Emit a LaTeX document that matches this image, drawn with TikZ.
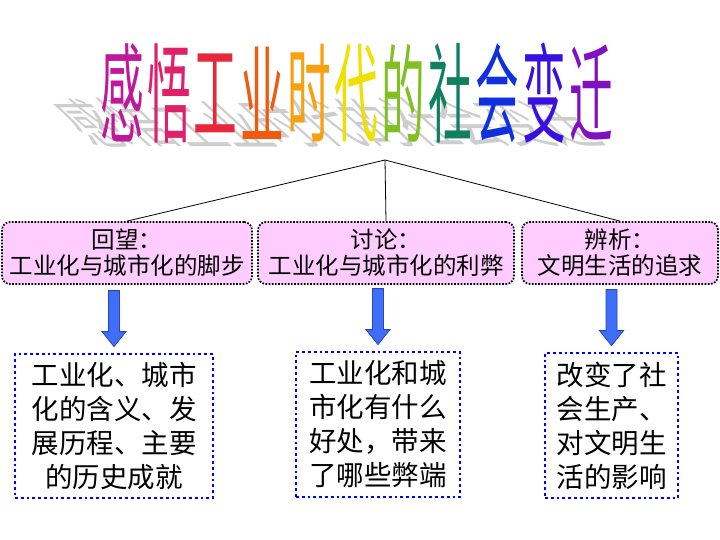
\documentclass[tikz,border=0pt]{standalone}
\usepackage{fontspec}
\setmainfont{Noto Sans CJK SC}
\usetikzlibrary{calc}
\definecolor{ta}{HTML}{C0189A}
\definecolor{tb}{HTML}{E0206A}
\definecolor{tc}{HTML}{E8283A}
\definecolor{td}{HTML}{F05A10}
\definecolor{te}{HTML}{F8A010}
\definecolor{tf}{HTML}{F0E000}
\definecolor{tg}{HTML}{80C020}
\definecolor{th}{HTML}{108060}
\definecolor{ti}{HTML}{1030E0}
\definecolor{tj}{HTML}{3810E0}
\definecolor{tk}{HTML}{8010C0}
\definecolor{shadowgray}{HTML}{CDCDCD}
\definecolor{boxpink}{HTML}{FFCCFF}
\definecolor{dotblue}{HTML}{0000FF}
\definecolor{arrowfill}{HTML}{3F6EF8}
\definecolor{arrowdraw}{HTML}{2846B8}
\begin{document}
\begin{tikzpicture}[x=1pt,y=-1pt,
  titlefont/.style={font=\fontsize{46}{46}\selectfont, inner sep=0, transform shape},
  topbox/.style={draw=black, line width=1.7pt, dash pattern=on 1.7pt off 1.5pt, fill=boxpink,
    rounded corners=8pt, minimum height=62, inner sep=0, align=center,
    font=\fontsize{23.5}{26}\selectfont},
  botbox/.style={draw=dotblue, line width=2.8pt, dash pattern=on 2.8pt off 3pt, fill=white,
    inner sep=0, align=center, font=\fontsize{27.5}{34}\selectfont},
  blockarrow/.style={fill=arrowfill, draw=arrowdraw, line width=0.8pt},
  link/.style={draw=black, line width=0.8pt}]
\useasboundingbox (0,0) rectangle (720,540);
\fill[white] (0,0) rectangle (720,540);
% title shadows
\foreach \ch [count=\i from 0] in {感,悟,工,业,时,代,的,社,会,变,迁}{
  \pgfmathsetmacro\cx{122+46.9*\i}
  \begin{scope}[shift={(\cx-4,147)}, xslant=-1.1, yscale=1.15]
    \node[titlefont, anchor=south, text=shadowgray] (shadow\i) {\ch};
  \end{scope}
}
% title characters
\foreach \ch/\col [count=\i from 0] in {感/ta,悟/tb,工/tc,业/td,时/te,代/tf,的/tg,社/th,会/ti,变/tj,迁/tk}{
  \pgfmathsetmacro\cx{122+46.9*\i}
  \begin{scope}[shift={(\cx,93)}, xscale=0.95, yscale=2.35]
    \node[titlefont, text=\col] (title\i) {\ch};
  \end{scope}
}
% top boxes
\node[topbox, minimum width=250] (b1) at (127,253) {回望：\\工业化与城市化的脚步};
\node[topbox, minimum width=256] (b2) at (386,253) {讨论：\\工业化与城市化的利弊};
\node[topbox, minimum width=196] (b3) at (620,253) {辨析：\\文明生活的追求};
% connectors
\coordinate (apex) at (385,160);
\draw[link] (apex) -- (b1.north);
\draw[link] (apex) -- (b2.north);
\draw[link] (apex) -- (b3.north);
% bottom boxes
\node[botbox, minimum width=198, minimum height=144] (c1) at (114,426) {工业化、城市\\化的含义、发\\展历程、主要\\的历史成就};
\node[botbox, minimum width=164, minimum height=145] (c2) at (378,424.5) {工业化和城\\市化有什么\\好处，带来\\了哪些弊端};
\node[botbox, minimum width=133, minimum height=145] (c3) at (611.5,425.5) {改变了社\\会生产、\\对文明生\\活的影响};
% block arrows
\foreach \n in {c1,c2,c3}{
  \begin{scope}[shift={(\n.north)}]
    \draw[blockarrow] (-5.5,-62) -- (5.5,-62) -- (5.5,-21) -- (12,-21) -- (0,-6)
      -- (-12,-21) -- (-5.5,-21) -- cycle;
  \end{scope}
}
\end{tikzpicture}
\end{document}
